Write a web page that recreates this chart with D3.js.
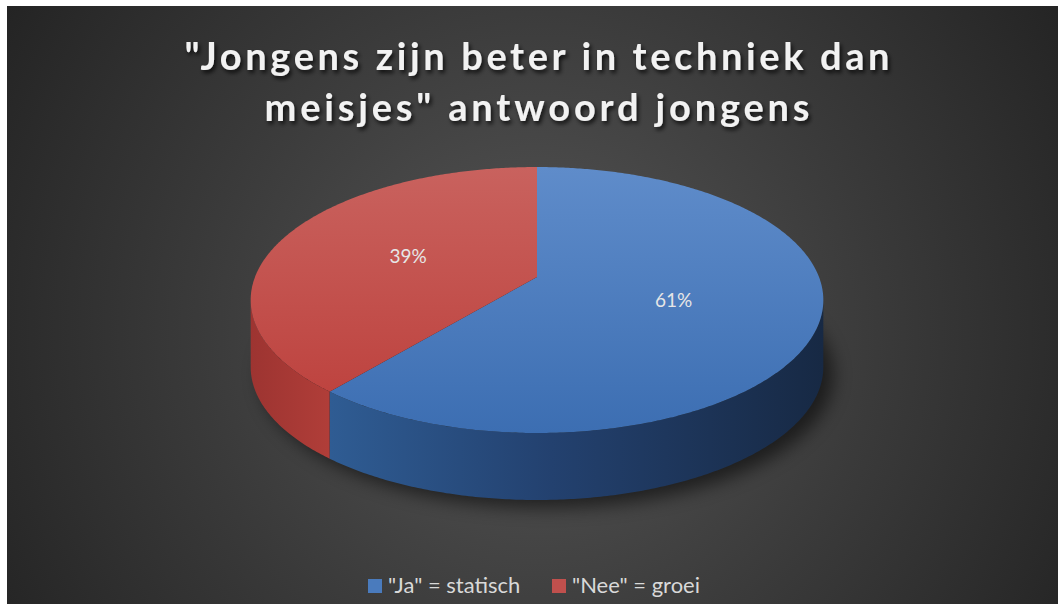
<!DOCTYPE html>
<html><head><meta charset="utf-8">
<script src="https://cdn.jsdelivr.net/npm/d3@7"></script>
<style>html,body{margin:0;padding:0;background:#fff;overflow:hidden}</style>
</head><body>
<script>
const categories = ['"Ja" = statisch', '"Nee" = groei'];
const values = [61, 39];
const labels = ["61%", "39%"];
const colors = ["#4a7bbd", "#c0504d"];
const titleLines = ['"Jongens zijn beter in techniek dan', 'meisjes" antwoord jongens'];

const W = 1058, H = 604;
const svg = d3.select("body").append("svg").attr("width", W).attr("height", H);
const defs = svg.append("defs");

// background
const bg = defs.append("radialGradient").attr("id","bg").attr("gradientUnits","userSpaceOnUse")
  .attr("cx",537).attr("cy",330).attr("r",620);
bg.append("stop").attr("offset","0").attr("stop-color","#565656");
bg.append("stop").attr("offset","0.55").attr("stop-color","#3a3a3a");
bg.append("stop").attr("offset","1").attr("stop-color","#242424");
svg.append("rect").attr("x",7).attr("y",6).attr("width",W-7).attr("height",H-6).attr("fill","url(#bg)");

// perspective projection of the pie disc
const cx = 537, cy = 277, A = 282, B = 129, k = 0.173, depth = 67;
const proj = (a, r=1, dy=0) => {
  const u = r*Math.sin(a), v = -r*Math.cos(a);
  const s = 1/(1 - k*v);
  return [cx + A*u*s, cy + B*v*s + dy];
};

function lin(id, x1,y1,x2,y2, stops){
  const g = defs.append("linearGradient").attr("id",id).attr("gradientUnits","userSpaceOnUse")
    .attr("x1",x1).attr("y1",y1).attr("x2",x2).attr("y2",y2);
  stops.forEach(s=>g.append("stop").attr("offset",s[0]).attr("stop-color",s[1]));
}
lin("topBlue", 0,167,0,433, [[0,"#5f8cca"],[1,"#3c6eb2"]]);
lin("topRed", 0,167,0,433, [[0,"#c9625e"],[1,"#bc3e3a"]]);
lin("sideBlue", 330,0,823,0, [[0,"#2f5c93"],[0.45,"#23416f"],[1,"#172944"]]);
lin("sideRed", 251,0,332,0, [[0,"#9d3431"],[1,"#b13e39"]]);
const topFill = ["url(#topBlue)","url(#topRed)"];
const sideFill = ["url(#sideBlue)","url(#sideRed)"];

const f = defs.append("filter").attr("id","shadow").attr("x","-20%").attr("y","-20%").attr("width","140%").attr("height","140%");
f.append("feGaussianBlur").attr("stdDeviation",9);
const tf = defs.append("filter").attr("id","tshadow").attr("x","-10%").attr("y","-30%").attr("width","120%").attr("height","160%");
tf.append("feDropShadow").attr("dx",2).attr("dy",3).attr("stdDeviation",2).attr("flood-color","#000").attr("flood-opacity",0.75);

const pie = d3.pie().sort(null).startAngle(0).endAngle(2*Math.PI);
const arcs = pie(values);

function arcPts(a0,a1,dy){
  const n = Math.max(2, Math.ceil(Math.abs(a1-a0)/0.01));
  return d3.range(n+1).map(i=>proj(a0+(a1-a0)*i/n,1,dy));
}
const line = d3.line();

// drop shadow under the pie
const outline = arcPts(0, 2*Math.PI, 0);
svg.append("path").attr("d", line(outline)+"Z").attr("transform",`translate(10,${depth+8})`)
  .attr("fill","#000").attr("opacity",0.55).attr("filter","url(#shadow)");

// visible side range (silhouette tangents)
const t1 = Math.acos(-k), t2 = 2*Math.PI - t1;
const g = svg.append("g");
arcs.forEach((d,i)=>{
  const a0 = Math.max(d.startAngle, t1), a1 = Math.min(d.endAngle, t2);
  if (a1 <= a0) return;
  const pts = arcPts(a0,a1,0).concat(arcPts(a1,a0,depth));
  g.append("path").attr("d", line(pts)+"Z").attr("fill", sideFill[i]);
});
arcs.forEach((d,i)=>{
  const pts = [[cx,cy]].concat(arcPts(d.startAngle,d.endAngle,0));
  g.append("path").attr("d", line(pts)+"Z").attr("fill", topFill[i]);
});

// labels
arcs.forEach((d,i)=>{
  const m = (d.startAngle+d.endAngle)/2;
  const p = proj(m, 0.5, 0);
  svg.append("text").attr("x",p[0]).attr("y",p[1]).attr("text-anchor","middle").attr("dominant-baseline","central")
    .attr("font-family","Lato, 'Open Sans', sans-serif").attr("font-size",19).attr("fill","#e6e6e6").text(labels[i]);
});

// title
const tl = [[537,70,705],[537,121,545]];
titleLines.forEach((t,i)=>{
  svg.append("text").attr("x",tl[i][0]).attr("y",tl[i][1]).attr("text-anchor","middle")
    .attr("font-family","Lato, 'Open Sans', sans-serif").attr("font-weight","bold").attr("font-size",38)
    .attr("textLength",tl[i][2]).attr("lengthAdjust","spacing")
    .attr("fill","#f2f2f2").attr("filter","url(#tshadow)").text(t);
});

// legend
const leg = [[368,388],[552,572]];
categories.forEach((c,i)=>{
  svg.append("rect").attr("x",leg[i][0]).attr("y",579).attr("width",14).attr("height",14).attr("fill",colors[i]);
  svg.append("text").attr("x",leg[i][1]).attr("y",593).attr("font-family","Lato, 'Open Sans', sans-serif")
    .attr("font-size",22).attr("fill","#d9d9d9").text(c);
});
</script>
</body></html>
